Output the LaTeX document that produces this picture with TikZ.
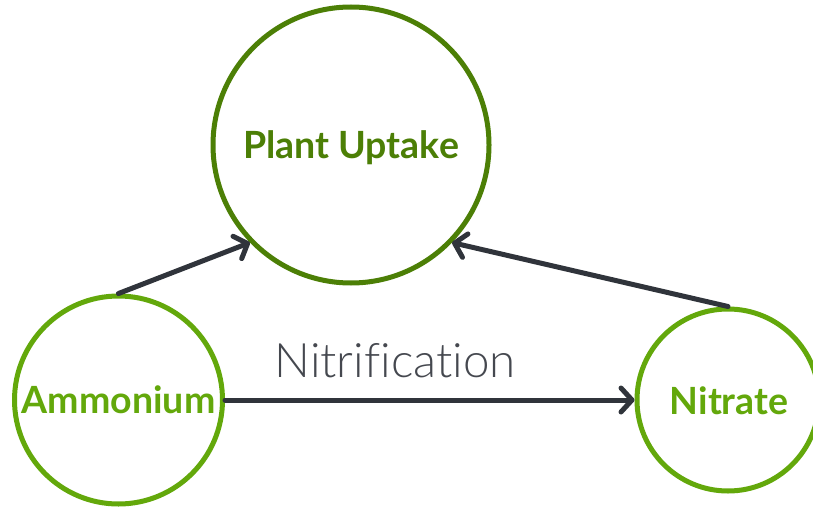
\documentclass[tikz,border=0pt]{standalone}
\usepackage{fontspec}
\setmainfont{Lato}
\newfontfamily\boldfont{Lato Bold}
\newfontfamily\lightfont{Lato Light}[Ligatures=NoCommon]
\usetikzlibrary{arrows.meta}
\definecolor{darkgreen}{HTML}{4C7F06}
\definecolor{lightgreen}{HTML}{63A80B}
\definecolor{arrowgray}{HTML}{30343B}
\tikzset{
  bubble/.style={circle, draw, line width=5pt, inner sep=0pt, fill=white},
  link/.style={draw=arrowgray, line width=5pt, line cap=round,
    -{Straight Barb[length=11pt, width=24pt, line width=5pt, round]}},
  lbl/.style={font=\boldfont\fontsize{37.5}{42}\selectfont, anchor=base, inner sep=0pt},
}
\begin{document}
\begin{tikzpicture}[x=1pt,y=-1pt]
\useasboundingbox (0,0) rectangle (813,508);
\node[bubble, draw=darkgreen, minimum size=276pt] (plant) at (351,145) {};
\node[bubble, draw=lightgreen, minimum size=208pt] (amm) at (118.5,400) {};
\node[bubble, draw=lightgreen, minimum size=182pt] (nit) at (728,400) {};
\node[lbl, text=darkgreen] (plantlbl) at (351,158) {Plant Uptake};
\node[lbl, text=lightgreen] (ammlbl) at (118.5,413) {Ammonium};
\node[lbl, text=lightgreen] (nitlbl) at (729,414) {Nitrate};
\draw[link] (amm.north) -- (plant.-136);
\draw[link] (nit.north) -- (plant.-44);
\draw[link] (amm.east) -- (nit.west);
\node[font=\lightfont\fontsize{47.5}{52}\selectfont, text=arrowgray!90, anchor=base, inner sep=0pt] (nitrif) at (395,377) {Nitrification};
\end{tikzpicture}
\end{document}
